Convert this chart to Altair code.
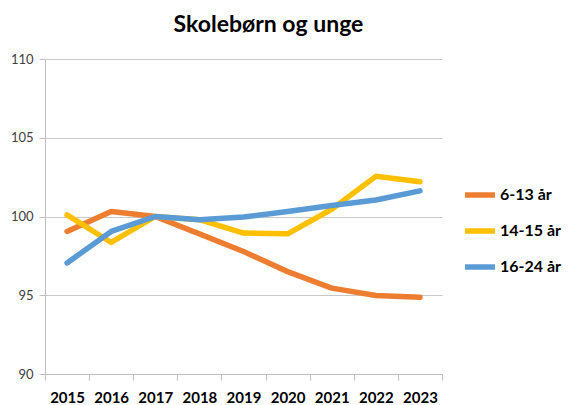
import altair as alt
import pandas as pd

years = ["2015", "2016", "2017", "2018", "2019", "2020", "2021", "2022", "2023"]
s_6_13 = [99.05, 100.32, 100.0, 98.9, 97.78, 96.5, 95.45, 94.98, 94.87]
s_14_15 = [100.1, 98.35, 100.0, 99.8, 98.95, 98.9, 100.46, 102.55, 102.2]
s_16_24 = [97.05, 99.05, 100.0, 99.8, 99.97, 100.32, 100.7, 101.05, 101.63]
series_names = ["6-13 år", "14-15 år", "16-24 år"]
colors = ["#ED7D31", "#FFC000", "#5B9BD5"]

rows = []
for name, vals in zip(series_names, [s_6_13, s_14_15, s_16_24]):
    for y, v in zip(years, vals):
        rows.append({"year": y, "value": v, "serie": name})
df = pd.DataFrame(rows)

chart = alt.Chart(df).mark_line(strokeWidth=5.5, strokeCap="round", strokeJoin="round").encode(
    x=alt.X("year:O", title=None, bandPosition=0.5,
            scale=alt.Scale(type="band", paddingInner=0, paddingOuter=0),
            axis=alt.Axis(tickBand="extent", labelAngle=0, labelFont="Lato", labelFontWeight="bold",
                          labelFontSize=15, labelColor="#000000", domainColor="#BFBFBF",
                          tickColor="#BFBFBF", tickSize=6, labelPadding=10, grid=False)),
    y=alt.Y("value:Q", title=None,
            scale=alt.Scale(domain=[90, 110], nice=False, zero=False),
            axis=alt.Axis(values=[90, 95, 100, 105, 110], labelFont="Lato", labelFontSize=13,
                          labelColor="#404040", domainColor="#BFBFBF", tickColor="#BFBFBF",
                          tickSize=6, labelPadding=6, gridColor="#C8C8C8")),
    color=alt.Color("serie:N", sort=series_names,
                    scale=alt.Scale(domain=series_names, range=colors),
                    legend=alt.Legend(title=None, orient="none", legendX=417, legendY=118,
                                      symbolType="stroke", symbolStrokeWidth=5.5, symbolSize=900,
                                      labelFont="Lato", labelFontSize=16, labelFontWeight="bold",
                                      labelColor="#000000", rowPadding=7, labelOffset=2)),
    order=alt.Order("year:O"),
).properties(
    width=397,
    height=315,
    title=alt.TitleParams("Skolebørn og unge", font="Lato", fontSize=23, fontWeight="bold",
                          color="#000000", anchor="middle", dx=25, offset=16),
    padding={"left": 37, "top": 51, "right": 125, "bottom": 30},
    autosize=alt.AutoSizeParams(type="none"),
).configure_view(stroke=None)

chart.save("out.html", embed_options={"renderer": "svg", "actions": False})
